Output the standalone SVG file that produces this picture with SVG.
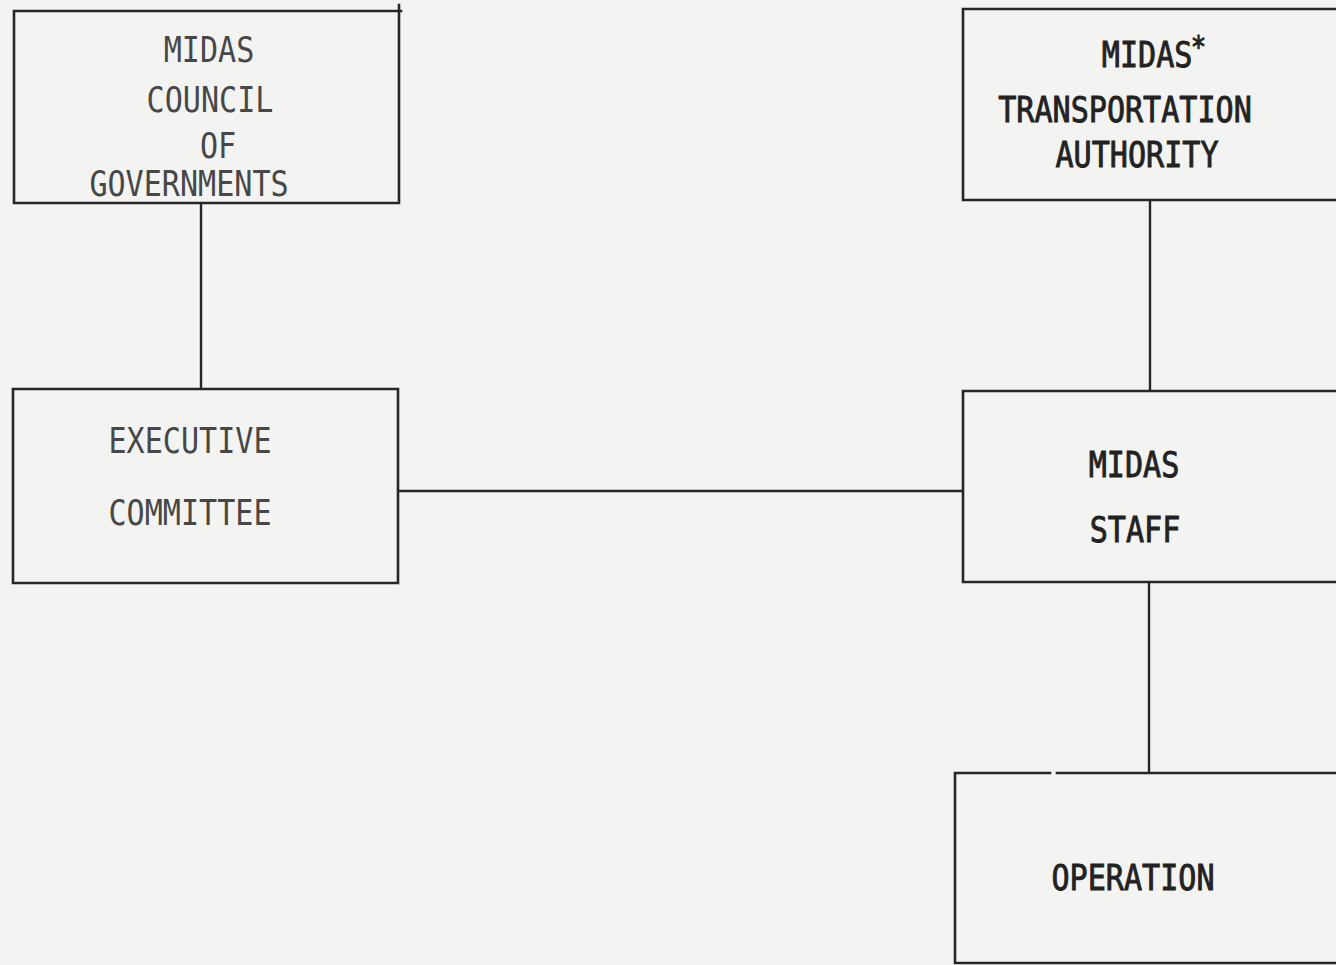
<svg xmlns="http://www.w3.org/2000/svg" width="1336" height="965" viewBox="0 0 1336 965">
  <style>
    .box { fill: none; stroke: #262626; stroke-width: 2.6; stroke-linecap: square; }
    .wire { fill: none; stroke: #262626; stroke-width: 2.4; }
    .lbl { font-family: "DejaVu Sans Mono", "Liberation Mono", monospace; font-size: 35px; text-anchor: middle; }
    .light { fill: #474747; }
    .dark { fill: #222222; stroke: #222222; stroke-width: 0.9; }
  </style>
  <rect width="1336" height="965" fill="#f3f3f1"/>

  <!-- connectors -->
  <g id="connectors">
    <line class="wire" x1="201" y1="203" x2="201" y2="389"/>
    <line class="wire" x1="1150" y1="200" x2="1150" y2="391"/>
    <line class="wire" x1="398" y1="491" x2="963" y2="491"/>
    <line class="wire" x1="1149" y1="582" x2="1149" y2="773"/>
  </g>

  <g id="council">
    <path class="box" d="M14 11 H401 M399 5 V203 H14 V11"/>
    <text class="lbl light" transform="translate(209 62) scale(0.86 1)">MIDAS</text>
    <text class="lbl light" transform="translate(210 112) scale(0.86 1)">COUNCIL</text>
    <text class="lbl light" transform="translate(218 158) scale(0.86 1)">OF</text>
    <text class="lbl light" transform="translate(189 196) scale(0.86 1)">GOVERNMENTS</text>
  </g>

  <g id="authority">
    <path class="box" d="M1340 9 H963 V200 H1340"/>
    <text class="lbl dark" transform="translate(1154 67) scale(0.86 1)">MIDAS<tspan dx="-2" dy="-10" font-size="30">*</tspan></text>
    <text class="lbl dark" transform="translate(1125 122) scale(0.86 1)">TRANSPORTATION</text>
    <text class="lbl dark" transform="translate(1137 167) scale(0.86 1)">AUTHORITY</text>
  </g>

  <g id="executive">
    <path class="box" d="M13 389 H398 V583 H13 Z"/>
    <text class="lbl light" transform="translate(190 453) scale(0.86 1)">EXECUTIVE</text>
    <text class="lbl light" transform="translate(190 525) scale(0.86 1)">COMMITTEE</text>
  </g>

  <g id="staff">
    <path class="box" d="M1340 391 H963 V582 H1340"/>
    <text class="lbl dark" transform="translate(1134 477) scale(0.86 1)">MIDAS</text>
    <text class="lbl dark" transform="translate(1135 542) scale(0.86 1)">STAFF</text>
  </g>

  <g id="operation">
    <path class="box" d="M1050 773 H955 V963 H1340 M1057 773 H1340"/>
    <text class="lbl dark" transform="translate(1133 890) scale(0.86 1)">OPERATION</text>
  </g>
</svg>
